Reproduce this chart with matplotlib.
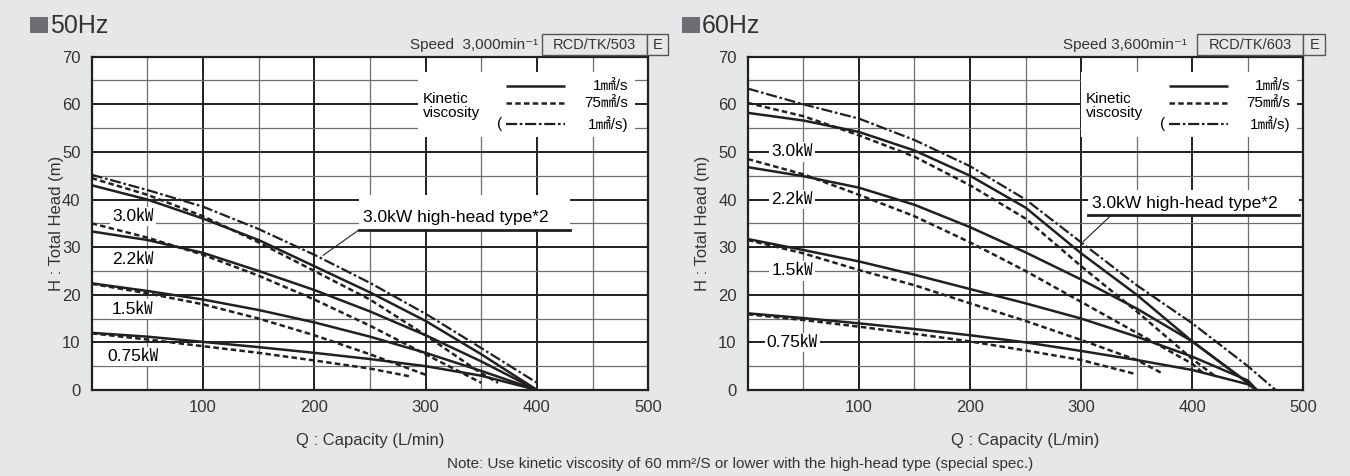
import matplotlib
matplotlib.use("Agg")
import matplotlib.pyplot as plt
from matplotlib.patches import Rectangle

BG = "#e6e7e8"
INK = "#231f20"
GRID_MINOR = "#6d6e71"
SQUARE = "#6d6e71"

plt.rcParams["font.family"] = ["Liberation Sans", "Noto Sans CJK JP", "DejaVu Sans"]

# ---- 50 Hz (Speed 3,000 min-1) -------------------------------------------
q50 = [0, 50, 100, 150, 200, 250, 300, 350, 400]
h50_30 = [43, 40, 36, 31.5, 26, 20.5, 14.5, 7.5, 0]
h50_22 = [33.3, 31.5, 28.8, 25, 21, 16.5, 11.5, 6, 0]
h50_15 = [22.4, 20.8, 19, 16.8, 14.2, 11.2, 7.8, 4, 0]
h50_075 = [12, 11.2, 10.1, 9, 7.8, 6.5, 5, 3, 0]
h50_hh = [45.2, 42, 38.5, 33.8, 28.4, 22.5, 16, 8.8, 1.5]

q50_30v = [0, 50, 100, 150, 200, 250, 300, 350, 365]
h50_30v = [44.5, 41, 36.5, 31, 25, 19, 11.5, 3.5, 1.5]
q50_22v = [0, 50, 100, 150, 200, 250, 300, 350]
h50_22v = [35, 32, 28.4, 24, 19, 13.5, 7.5, 1.5]
q50_15v = [0, 50, 100, 150, 200, 250, 300]
h50_15v = [22.3, 20.3, 18, 15, 11.5, 7.5, 3.2]
q50_075v = [0, 50, 100, 150, 200, 250, 285]
h50_075v = [11.9, 10.6, 9.2, 7.8, 6.2, 4.5, 2.9]

# ---- 60 Hz (Speed 3,600 min-1) -------------------------------------------
q60 = [0, 50, 100, 150, 200, 250, 300, 350, 400, 450, 458]
h60_30 = [58.2, 56.6, 54.2, 50.3, 45, 38.3, 28.7, 20, 10.2, 1.5, 0]
h60_22 = [46.8, 44.9, 42.5, 38.9, 34.2, 28.9, 23.2, 17.1, 10.2, 1.5, 0]
h60_15 = [31.7, 29.4, 27, 24.2, 21.2, 18.2, 15, 11.2, 7, 2, 0]
h60_075 = [16.1, 15.1, 14, 12.8, 11.5, 10, 8.2, 6.3, 4.2, 1.2, 0]
q60_hh = [0, 50, 100, 150, 200, 250, 300, 350, 400, 450, 475]
h60_hh = [63.3, 60, 57, 52.5, 47, 40, 31, 22, 14, 5, 0]

q60_30v = [0, 50, 100, 150, 200, 250, 300, 350, 400, 420]
h60_30v = [60.3, 57.5, 53.5, 49, 43, 36, 26, 16.5, 6.5, 3]
q60_22v = [0, 50, 100, 150, 200, 250, 300, 350, 400, 410]
h60_22v = [48.5, 45.3, 41, 36.5, 31, 25, 18.5, 12, 5.5, 3.5]
q60_15v = [0, 50, 100, 150, 200, 250, 300, 350, 373]
h60_15v = [31.5, 28.7, 25.2, 22, 18.2, 14.5, 10.5, 6.3, 3.5]
q60_075v = [0, 50, 100, 150, 200, 250, 300, 348]
h60_075v = [15.9, 14.7, 13.3, 11.8, 10.2, 8.3, 6.3, 3.4]

power_labels = ["3.0㎾", "2.2㎾", "1.5㎾", "0.75㎾"]
x_ticks = [0, 100, 200, 300, 400, 500]
y_ticks = [0, 10, 20, 30, 40, 50, 60, 70]

SOLID = dict(color=INK, lw=1.8, solid_capstyle="butt")
DASHED = dict(color=INK, lw=1.8, dashes=(2.2, 1.3))
DASHDOT = dict(color=INK, lw=1.6, dashes=(5, 1.2, 1.2, 1.2))
CJK = ["Liberation Sans", "Noto Sans CJK JP"]


def setup_axes(ax):
    ax.set_facecolor("white")
    ax.set_xlim(0, 500); ax.set_ylim(0, 70)
    ax.set_xticks(x_ticks)
    ax.set_xticklabels([""] + [str(v) for v in x_ticks[1:]])
    ax.set_xticks(range(50, 500, 100), minor=True)
    ax.set_yticks(y_ticks)
    ax.set_yticks(range(5, 70, 10), minor=True)
    ax.tick_params(which="both", length=0, labelsize=12, colors="#333333")
    ax.tick_params(axis="x", pad=7)
    ax.tick_params(axis="y", pad=8)
    ax.grid(which="major", color=INK, lw=1.4)
    ax.grid(which="minor", color=GRID_MINOR, lw=0.9)
    for s in ax.spines.values():
        s.set_color(INK); s.set_linewidth(1.6)
    ax.set_xlabel("Q : Capacity (L/min)", fontsize=12, color="#333333")
    ax.set_ylabel("H : Total Head (m)", fontsize=12, color="#333333")
    ax.xaxis.set_label_coords(0.5, -0.13)


def legend_box(ax, x0, x1):
    ax.add_patch(Rectangle((x0, 53.2), x1 - x0, 13.6, fc="white", ec="none", zorder=2))
    ax.text(x0 + 4, 59.6, "Kinetic\nviscosity", fontsize=11, va="center",
            linespacing=1.0, zorder=4)
    ax.plot([x0 + 79, x0 + 132], [63.8, 63.8], zorder=4, **SOLID)
    ax.plot([x0 + 79, x0 + 132], [60.3, 60.3], zorder=4, **DASHED)
    ax.plot([x0 + 79, x0 + 132], [55.9, 55.9], zorder=4, **DASHDOT)
    ax.text(x0 + 71, 55.9, "(", fontsize=11, va="center", zorder=4)
    kw = dict(fontsize=11, va="center", ha="right", zorder=4, family=CJK)
    ax.text(x1 - 6, 63.8, "1㎟/s", **kw)
    ax.text(x1 - 6, 60.3, "75㎟/s", **kw)
    ax.text(x1 - 6, 55.9, "1㎟/s)", **kw)


def curve_label(ax, x, y, s):
    ax.text(x, y, s, fontsize=12.5, ha="center", va="center", zorder=4,
            family=CJK, bbox=dict(fc="white", ec="none", pad=1.5))


fig = plt.figure(figsize=(13.5, 4.76), dpi=100, facecolor=BG)
axL = fig.add_axes([0.0679, 0.1807, 0.4123, 0.7002])
axR = fig.add_axes([0.5539, 0.1807, 0.4116, 0.7002])

# ---- left panel ----
setup_axes(axL)
axL.yaxis.set_label_coords(-0.05, 0.5)
for h in (h50_30, h50_22, h50_15, h50_075):
    axL.plot(q50, h, zorder=3, **SOLID)
for q, h in ((q50_30v, h50_30v), (q50_22v, h50_22v), (q50_15v, h50_15v), (q50_075v, h50_075v)):
    axL.plot(q, h, zorder=3, **DASHED)
axL.plot(q50, h50_hh, zorder=3, **DASHDOT)
legend_box(axL, 293.5, 488)
for y, s in zip([36.5, 27.5, 17, 7], power_labels):
    curve_label(axL, 37, y, s)
axL.add_patch(Rectangle((240, 33.8), 190, 7.2, fc="white", ec="none", zorder=2))
axL.text(244, 36.2, "3.0kW high-head type*2", fontsize=12.5, va="center", zorder=4)
axL.plot([240, 430], [33.6, 33.6], color=INK, lw=2, zorder=4)
axL.plot([240, 208], [33.6, 28.3], color=INK, lw=0.8, zorder=4)

# ---- right panel ----
setup_axes(axR)
axR.yaxis.set_label_coords(-0.068, 0.5)
for h in (h60_30, h60_22, h60_15, h60_075):
    axR.plot(q60, h, zorder=3, **SOLID)
for q, h in ((q60_30v, h60_30v), (q60_22v, h60_22v), (q60_15v, h60_15v), (q60_075v, h60_075v)):
    axR.plot(q, h, zorder=3, **DASHED)
axR.plot(q60_hh, h60_hh, zorder=3, **DASHDOT)
legend_box(axR, 300, 494)
for y, s in zip([50, 40, 25, 10], power_labels):
    curve_label(axR, 40, y, s)
axR.add_patch(Rectangle((306, 36.9), 190, 5, fc="white", ec="none", zorder=2))
axR.text(310, 39.2, "3.0kW high-head type*2", fontsize=12.5, va="center", zorder=4)
axR.plot([306, 496], [36.7, 36.7], color=INK, lw=2, zorder=4)
axR.plot([327, 302], [36.7, 31.2], color=INK, lw=0.8, zorder=4)

# ---- figure-level headers ----
label_box = {"50Hz": "RCD/TK/503", "60Hz": "RCD/TK/603"}


def header(x_sq, label, speed, speed_right, box_x0, box_div, box_x1):
    W, H = 1350.0, 476.0
    fig.patches.append(Rectangle((x_sq / W, 1 - 33 / H), 18 / W, 16 / H,
                                 transform=fig.transFigure, fc=SQUARE, ec="none"))
    fig.text((x_sq + 20) / W, 1 - 33 / H, label, fontsize=18, color="#333333",
             va="baseline")
    fig.text(speed_right / W, 1 - 45 / H, speed, fontsize=11, ha="right",
             va="center", color="#333333",
             family=["Liberation Sans", "DejaVu Sans"])
    for a, b in ((box_x0, box_div), (box_div, box_x1)):
        fig.patches.append(Rectangle((a / W, 1 - 55.3 / H), (b - a) / W, 21 / H,
                                     transform=fig.transFigure, fc=BG,
                                     ec="#555555", lw=1))
    fig.text((box_x0 + box_div) / 2 / W, 1 - 45 / H, label_box[label], fontsize=10.5,
             ha="center", va="center", color="#333333")
    fig.text((box_div + box_x1) / 2 / W, 1 - 45 / H, "E", fontsize=10.5,
             ha="center", va="center", color="#333333")


header(30, "50Hz", "Speed  3,000min⁻¹", 538, 542.3, 647.3, 668.3)
header(682, "60Hz", "Speed 3,600min⁻¹", 1187, 1196.7, 1303.3, 1325)

fig.text(740 / 1350, 1 - 464 / 476,
         "Note: Use kinetic viscosity of 60 mm²/S or lower with the high-head type (special spec.)",
         fontsize=11, ha="center", va="center", color="#333333")

fig.savefig("out.png", dpi=100, facecolor=BG)
